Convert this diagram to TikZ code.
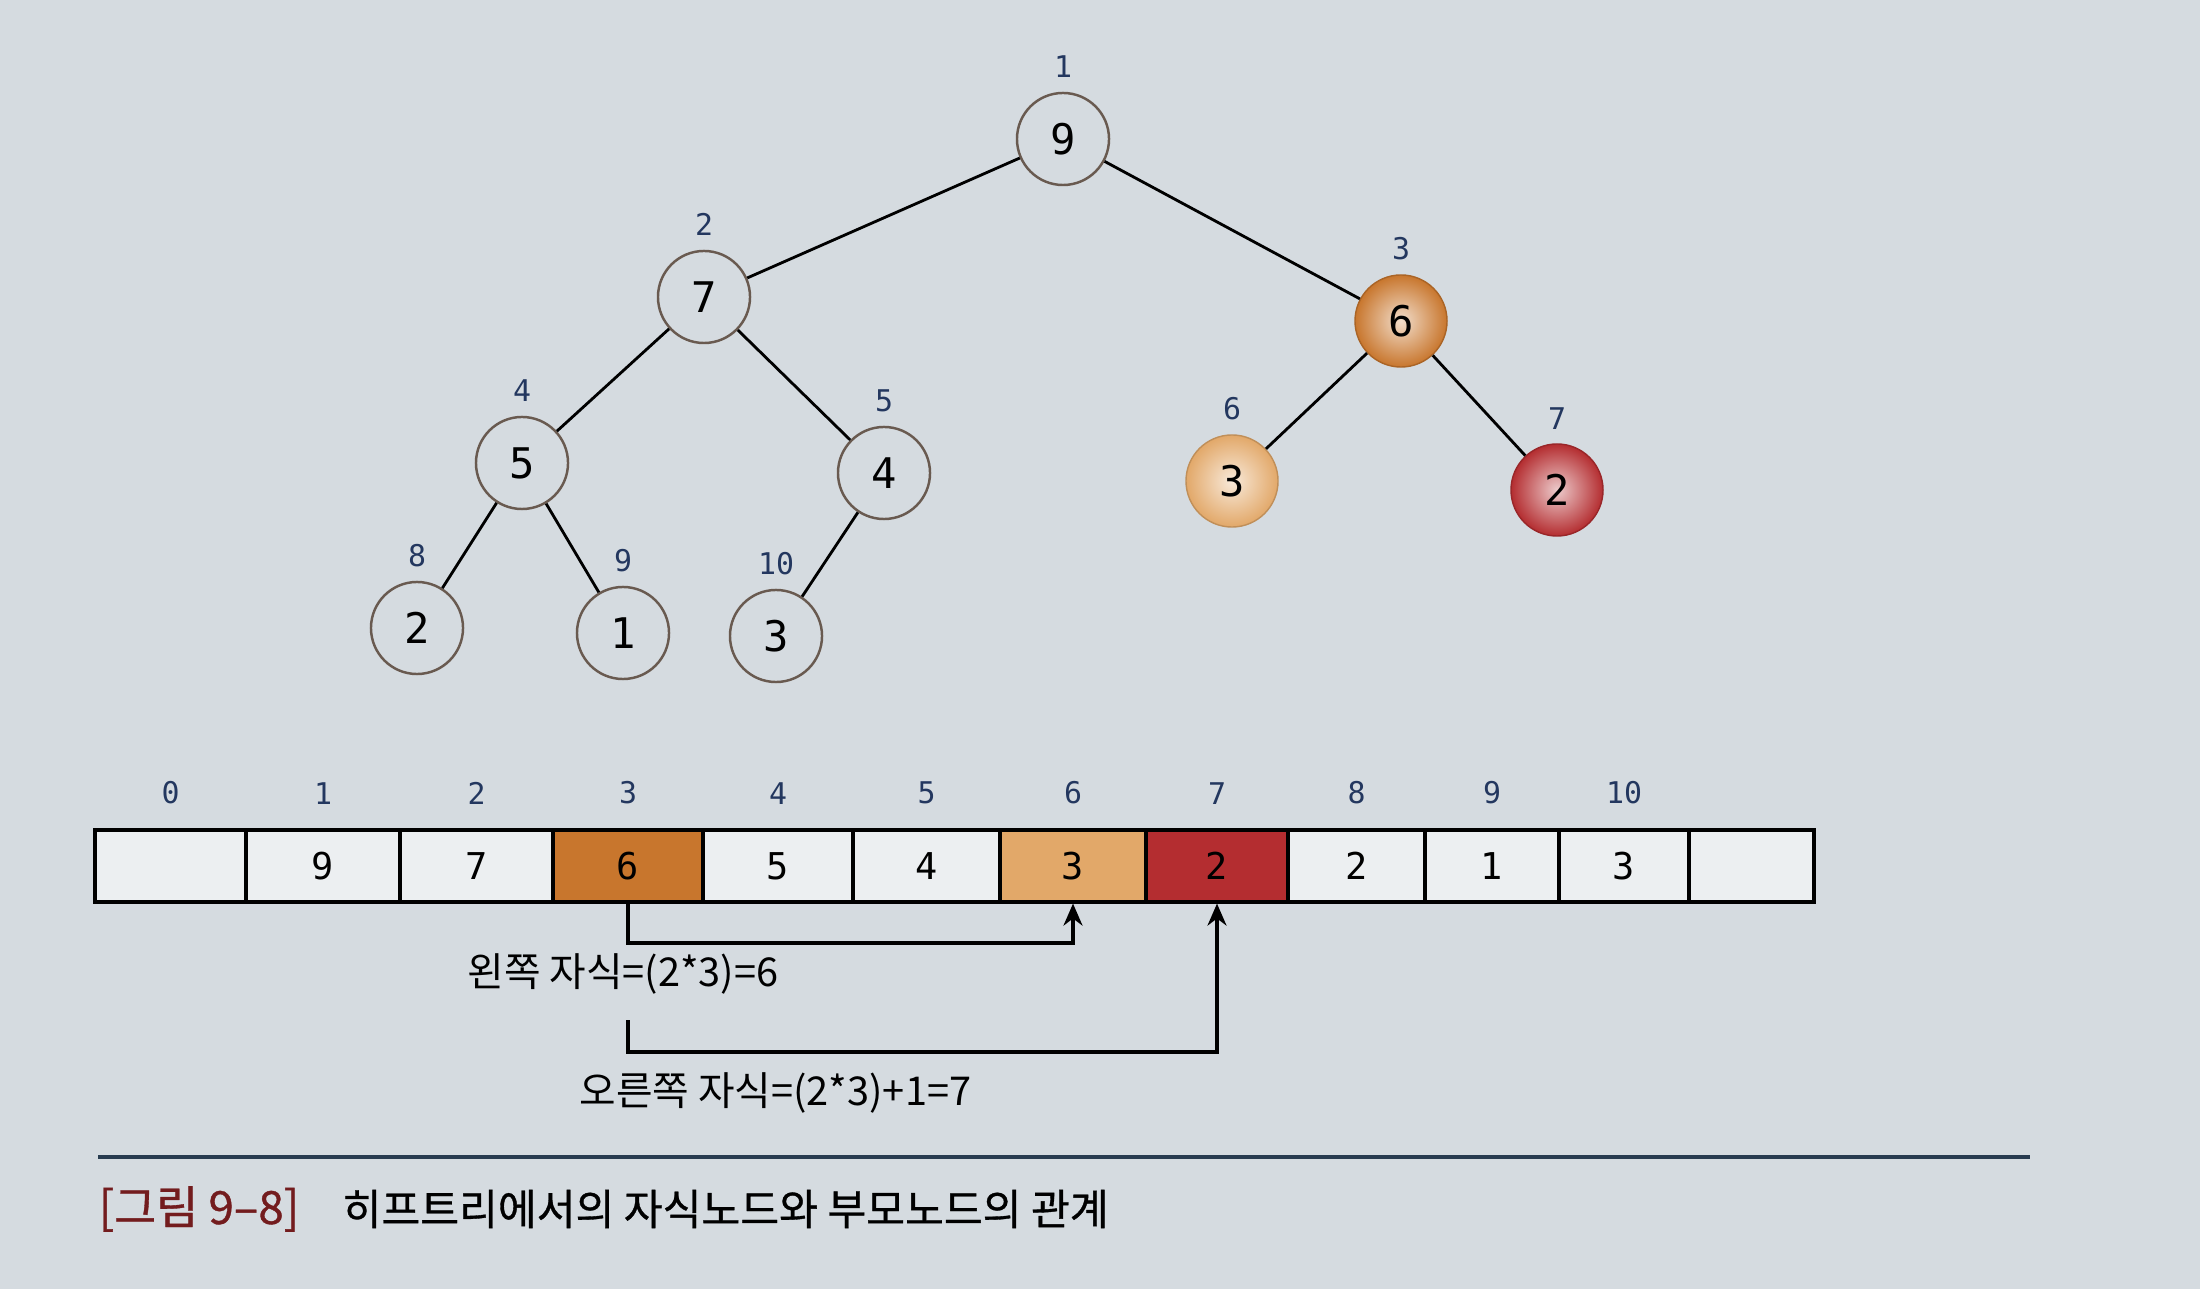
\documentclass[tikz,border=0pt]{standalone}
\usepackage{fontspec}
\setmainfont{DejaVu Sans}
\newfontfamily\digitfont{DejaVu Sans Mono}
\newfontfamily\krfont{Noto Sans CJK KR}
\newfontfamily\capfont[FakeBold=0.8]{Noto Sans CJK KR}
\usetikzlibrary{positioning,arrows.meta}
\definecolor{paper}{RGB}{213,219,224}
\definecolor{idxblue}{RGB}{35,55,95}
\definecolor{rimgray}{RGB}{105,90,80}
\definecolor{heaporange}{RGB}{200,118,45}
\definecolor{heaptan}{RGB}{226,168,105}
\definecolor{heapred}{RGB}{180,45,48}
\definecolor{cellwhite}{RGB}{236,239,241}
\definecolor{capred}{RGB}{115,28,30}
\definecolor{ruleblue}{RGB}{40,60,80}

\tikzset{
  hnode/.style={circle,draw=rimgray,line width=0.7pt,minimum size=0.92cm,inner sep=0pt,
    font=\digitfont\fontsize{12}{14}\selectfont},
  hot/.style={draw=#1!85!black,line width=0.4pt,inner color=#1!25!white,outer color=#1},
  idx/.style={text=idxblue,font=\digitfont\fontsize{8.5}{10}\selectfont,inner sep=1pt},
  cell/.style={draw,line width=0.9pt,minimum height=0.72cm,inner sep=0pt,
    font=\digitfont\fontsize{10.5}{12}\selectfont},
  edge/.style={line width=0.8pt},
  link/.style={line width=0.9pt,-{Stealth[length=2.2mm,width=1.9mm]}},
  note/.style={font=\krfont\fontsize{11.3}{13}\selectfont,inner sep=0pt,anchor=west}
}

\begin{document}
\begin{tikzpicture}[x=0.01cm,y=-0.01cm]
\useasboundingbox[fill=paper] (0,0) rectangle (2200,1289);
% heap tree
\node[hnode,label={[idx,label distance=0.1cm]above:1}] (n1) at (1063,139) {9};
\node[hnode,label={[idx,label distance=0.1cm]above:2}] (n2) at (704,297) {7};
\node[hnode,hot=heaporange,label={[idx,label distance=0.1cm]above:3}] (n3) at (1401,321) {6};
\node[hnode,label={[idx,label distance=0.1cm]above:4}] (n4) at (522,463) {5};
\node[hnode,label={[idx,label distance=0.1cm]above:5}] (n5) at (884,473) {4};
\node[hnode,hot=heaptan,label={[idx,label distance=0.1cm]above:6}] (n6) at (1232,481) {3};
\node[hnode,hot=heapred,label={[idx,label distance=0.1cm]above:7}] (n7) at (1557,490) {2};
\node[hnode,label={[idx,label distance=0.1cm]above:8}] (n8) at (417,628) {2};
\node[hnode,label={[idx,label distance=0.1cm]above:9}] (n9) at (623,633) {1};
\node[hnode,label={[idx,label distance=0.1cm]above:10}] (n10) at (776,636) {3};
\foreach \a/\b in {n1/n2,n1/n3,n2/n4,n2/n5,n3/n6,n3/n7,n4/n8,n4/n9,n5/n10}
  \draw[edge] (\a) -- (\b);
% array
\foreach \i/\cx/\w/\val/\col in {0/170.5/151//cellwhite,1/323/154/9/cellwhite,
    2/476.5/153/7/cellwhite,3/628/150/6/heaporange,4/778/150/5/cellwhite,
    5/926.5/147/4/cellwhite,6/1073/146/3/heaptan,7/1217/142/2/heapred,
    8/1356.5/137/2/cellwhite,9/1492/134/1/cellwhite,10/1624/130/3/cellwhite,
    11/1751.5/125//cellwhite} {
  \node[cell,fill=\col,minimum width=\w*0.1mm] (c\i) at (\cx,866) {\val};
}
\foreach \i in {0,...,10}
  \node[idx,above=0.2cm of c\i] {\i};
% child links
\coordinate (lbend) at (1073,943);
\coordinate (rstart) at (628,1020);
\coordinate (rbend) at (1217,1052);
\draw[link] (c3.south) |- (lbend) -- (c6.south);
\draw[link] (rstart) |- (rbend) -- (c7.south);
\node[note] (lnote) at (467,974) {왼쪽 자식=(2*3)=6};
\node[note] (rnote) at (579,1093) {오른쪽 자식=(2*3)+1=7};
% caption
\coordinate (rulea) at (98,1157);
\coordinate (ruleb) at (2030,1157);
\draw[ruleblue,line width=1pt] (rulea) -- (ruleb);
\node[note,font=\capfont\fontsize{13}{15}\selectfont,text=capred] (capnum) at (98,1209) {[그림 9–8]};
\node[note,font=\capfont\fontsize{12}{14}\selectfont,right=0.42cm of capnum] (captext) {히프트리에서의 자식노드와 부모노드의 관계};
\end{tikzpicture}
\end{document}
